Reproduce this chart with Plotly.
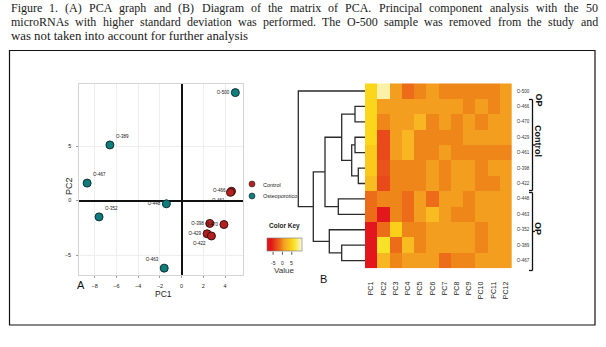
import plotly.graph_objects as go

W, H = 606, 347


def fx(p):
    return p / W


def fy(p):
    return 1 - p / H


# ---------------- data ----------------
caption_lines = [
    "Figure 1. (A) PCA graph and (B) Diagram of the matrix of PCA. Principal component analysis with the 50",
    "microRNAs with higher standard deviation was performed. The O-500 sample was removed from the study and",
    "was not taken into account for further analysis",
]

ctrl_names = ["O-466", "O-461", "O-398", "O-470", "O-429", "O-422"]
ctrl_pc1 = [4.6, 4.5, 2.6, 3.9, 2.35, 2.75]
ctrl_pc2 = [0.85, 0.75, -2.1, -2.2, -3.05, -3.25]

op_names = ["O-500", "O-389", "O-467", "O-448", "O-352", "O-463"]
op_pc1 = [4.95, -6.6, -8.7, -1.4, -7.6, -1.6]
op_pc2 = [9.9, 5.1, 1.6, -0.3, -1.5, -6.2]

pca_x_ticks = [-8, -6, -4, -2, 0, 2, 4]
pca_y_ticks = [-5, 0, 5]

heat_rows = ["O-500", "O-466", "O-470", "O-429", "O-461", "O-398",
             "O-422", "O-448", "O-463", "O-352", "O-389", "O-467"]
heat_cols = ["PC1", "PC2", "PC3", "PC4", "PC5", "PC6",
             "PC7", "PC8", "PC9", "PC10", "PC11", "PC12"]
heat_values = [
    [5.0, 9.0, 0.5, -1.5, -0.5, 0.5, -0.5, -0.5, -0.5, -0.5, -0.5, 0.5],
    [5.0, 0.5, 0.5, 0.5, 0.5, 0.5, 0.5, 0.5, -0.5, 0.5, -0.5, 0.5],
    [5.0, -0.5, 0.5, 0.5, 2.5, -0.5, 0.5, -0.5, 0.5, -0.5, 0.5, 0.5],
    [5.0, -3.5, 0.5, 2.5, -0.5, -0.5, -0.5, -0.5, 0.5, 0.5, 0.5, 0.5],
    [4.0, -3.5, 0.5, 2.5, -0.5, -0.5, 0.5, -0.5, -0.5, -0.5, -0.5, -0.5],
    [4.0, -3.0, -0.5, -0.5, -0.5, 0.5, -0.5, 0.5, 0.5, -0.5, 0.5, 0.5],
    [3.0, -3.5, -0.5, -0.5, -0.5, 0.5, -0.5, 0.5, 0.5, -0.5, -0.5, 0.5],
    [-1.5, -0.5, -0.5, -1.5, 0.5, -1.5, 0.5, 0.5, -0.5, 0.5, 0.5, 0.5],
    [-1.5, -6.0, -0.5, -1.5, 0.5, 3.0, 0.5, -0.5, -0.5, 0.5, 0.5, 0.5],
    [-7.0, -1.5, 4.5, -0.5, -0.5, 0.5, 0.5, 0.5, 0.5, -0.5, 0.5, 0.5],
    [-7.0, 6.0, -1.5, 3.0, -0.5, 0.5, 0.5, 0.5, 0.5, -0.5, 0.5, 0.5],
    [-7.0, 2.5, -0.5, 0.5, 0.5, 0.5, -1.5, -0.5, -0.5, 0.5, 0.5, 0.5],
]
key_ticks = [-5, 0, 5]

# dendrogram merges: (left child, right child, height); leaves are row indices 0..11,
# merged nodes get ids 12, 13, ...
dendro_merges = [
    (1, 2, 10.0),      # 12
    (3, 4, 10.0),      # 13
    (5, 6, 6.7),       # 14
    (13, 14, 13.3),    # 15
    (12, 15, 23.3),    # 16
    (7, 8, 26.7),      # 17
    (16, 17, 40.0),    # 18
    (10, 11, 23.3),    # 19
    (9, 19, 35.7),     # 20
    (18, 20, 51.7),    # 21
    (0, 21, 66.7),     # 22
]

# ---------------- helpers (text metrics for justified caption) ----------------
TIMES_W = {
    ' ': 250, '.': 250, ',': 250, '(': 333, ')': 333, '-': 333,
    'a': 444, 'b': 500, 'c': 444, 'd': 500, 'e': 444, 'f': 333, 'g': 500, 'h': 500,
    'i': 278, 'j': 278, 'k': 500, 'l': 278, 'm': 778, 'n': 500, 'o': 500, 'p': 500,
    'q': 500, 'r': 333, 's': 389, 't': 278, 'u': 500, 'v': 500, 'w': 722, 'x': 500,
    'y': 500, 'z': 444,
    'A': 722, 'B': 667, 'C': 667, 'D': 722, 'E': 611, 'F': 556, 'G': 722, 'H': 722,
    'I': 333, 'J': 389, 'K': 722, 'L': 611, 'M': 889, 'N': 722, 'O': 722, 'P': 556,
    'Q': 722, 'R': 667, 'S': 556, 'T': 611, 'U': 722, 'V': 722, 'W': 944, 'X': 722,
    'Y': 722, 'Z': 611,
}


def text_w(s, size):
    return sum(TIMES_W.get(ch, 500) for ch in s) * size / 1000.0


# ---------------- figure ----------------
fig = go.Figure()

RED = "#b3201f"
TEAL = "#107c7e"
fig.add_trace(go.Scatter(
    x=ctrl_pc1, y=ctrl_pc2, text=ctrl_names, mode="markers+text",
    textposition=["middle left", "bottom left", "middle left", "middle left",
                  "middle left", "bottom left"],
    textfont=dict(size=4.5, color="#111", family="Liberation Sans"),
    marker=dict(size=8, color=RED, line=dict(color="#3a1010", width=1)),
    xaxis="x", yaxis="y", showlegend=False, cliponaxis=False,
))
fig.add_trace(go.Scatter(
    x=op_pc1, y=op_pc2, text=op_names, mode="markers+text",
    textposition=["middle left", "top right", "top right", "middle left", "top right", "top left"],
    textfont=dict(size=4.5, color="#111", family="Liberation Sans"),
    marker=dict(size=8, color=TEAL, line=dict(color="#0d3030", width=1)),
    xaxis="x", yaxis="y", showlegend=False, cliponaxis=False,
))

# legend (manual, own small axes)
fig.add_trace(go.Scatter(
    x=[0, 0], y=[1, 0], mode="markers",
    marker=dict(size=6, color=[RED, TEAL], line=dict(color="#222", width=0.6)),
    xaxis="x4", yaxis="y4", showlegend=False, hoverinfo="skip",
))

# colour scale
anchors = [(-8.4, "#e0121c"), (-6.0, "#e3181c"), (-3.5, "#e84a1c"), (-1.5, "#ec6c1a"),
           (-0.5, "#ef861a"), (0.5, "#f49e20"), (2.5, "#f7b622"), (4.0, "#fbc81c"),
           (5.0, "#fcd61a"), (6.0, "#f6e226"), (10.3, "#fdf8e2")]
zmin, zmax = anchors[0][0], anchors[-1][0]
colorscale = [[(v - zmin) / (zmax - zmin), c] for v, c in anchors]

KEY_L, KEY_LEN, KEY_TOP, KEY_TH = 266.7, 35.0, 238.3, 13.0
fig.add_trace(go.Heatmap(
    z=heat_values, x=list(range(len(heat_cols))), y=list(range(len(heat_rows))),
    colorscale=colorscale, zmin=zmin, zmax=zmax, xaxis="x2", yaxis="y2",
    xgap=0, ygap=0,
    colorbar=dict(
        orientation="h", x=fx(KEY_L + KEY_LEN / 2), xanchor="center", y=fy(KEY_TOP), yanchor="top",
        len=KEY_LEN, lenmode="pixels", thickness=KEY_TH, thicknessmode="pixels",
        showticklabels=False, ticks="",
        outlinewidth=0.6, outlinecolor="#777", xpad=0, ypad=0,
    ),
))

# dendrogram
node_y = {i: float(i) for i in range(len(heat_rows))}
node_h = {i: 0.0 for i in range(len(heat_rows))}
dx, dy = [], []
for k, (a, b, h) in enumerate(dendro_merges):
    nid = len(heat_rows) + k
    dx += [node_h[a], h, h, node_h[b], None]
    dy += [node_y[a], node_y[a], node_y[b], node_y[b], None]
    node_y[nid] = (node_y[a] + node_y[b]) / 2
    node_h[nid] = h
fig.add_trace(go.Scatter(
    x=dx, y=dy, mode="lines", line=dict(color="#2a2a2a", width=1.3),
    xaxis="x3", yaxis="y3", showlegend=False, hoverinfo="skip",
))

# ---------------- layout ----------------
axis_font = dict(size=5.5, family="Liberation Sans", color="#222")
layout = dict(
    width=W, height=H, autosize=False,
    margin=dict(l=0, r=0, t=0, b=0),
    paper_bgcolor="white", plot_bgcolor="white",
    showlegend=False,
    xaxis=dict(
        domain=[fx(79.3), fx(242.5)], range=[-9.42, 5.61], tickvals=pca_x_ticks,
        showgrid=True, gridcolor="#eeeeee", gridwidth=0.6,
        zeroline=True, zerolinecolor="#111", zerolinewidth=2,
        showline=True, mirror=True, linecolor="#d4d4d4", linewidth=1,
        ticks="outside", ticklen=2, tickcolor="#999", tickfont=axis_font,
        ticklabelstandoff=3, anchor="y",
    ),
    yaxis=dict(
        domain=[fy(275), fy(84)], range=[-6.83, 10.69], tickvals=pca_y_ticks,
        showgrid=True, gridcolor="#eeeeee", gridwidth=0.6,
        zeroline=True, zerolinecolor="#111", zerolinewidth=2,
        showline=True, mirror=True, linecolor="#d4d4d4", linewidth=1,
        ticks="outside", ticklen=2, tickcolor="#999", tickfont=axis_font,
        ticklabelstandoff=4, anchor="x",
    ),
    xaxis2=dict(
        domain=[fx(365), fx(511.7)], range=[-0.5, 11.5], anchor="y2",
        tickvals=list(range(len(heat_cols))), ticktext=heat_cols, tickangle=-90,
        tickfont=dict(size=7, family="Liberation Sans", color="#222"),
        showgrid=False, zeroline=False, showline=False, ticks="", ticklabelstandoff=11,
    ),
    yaxis2=dict(
        domain=[fy(268.3), fy(83.3)], range=[11.5, -0.5], anchor="x2", side="right",
        tickvals=list(range(len(heat_rows))), ticktext=heat_rows,
        tickfont=dict(size=4.5, family="Liberation Sans", color="#333"),
        showgrid=False, zeroline=False, showline=False, ticks="", ticklabelstandoff=4,
    ),
    xaxis3=dict(
        domain=[fx(296), fx(365)], range=[69, 0], anchor="y3",
        visible=False, showgrid=False, zeroline=False,
    ),
    yaxis3=dict(
        domain=[fy(268.3), fy(83.3)], range=[11.5, -0.5], anchor="x3",
        visible=False, showgrid=False, zeroline=False,
    ),
    xaxis4=dict(domain=[fx(248), fx(256)], range=[-1, 1], anchor="y4",
                visible=False, showgrid=False, zeroline=False),
    yaxis4=dict(domain=[fy(202), fy(178)], range=[-0.5, 1.5], anchor="x4",
                visible=False, showgrid=False, zeroline=False),
)
fig.update_layout(**layout)

ann = []
CAP_SIZE = 12.0
CAP_LEFT, CAP_RIGHT = 8.5, 596.0
cap_y = [8.5, 22.0, 35.5]
for li, (line, yy) in enumerate(zip(caption_lines, cap_y)):
    cap_font = dict(size=CAP_SIZE, family="Liberation Serif", color="#1a1a1a")
    if li < len(caption_lines) - 1:
        words = line.split(" ")
        widths = [text_w(wd, CAP_SIZE) for wd in words]
        gap = (CAP_RIGHT - CAP_LEFT - sum(widths)) / (len(words) - 1)
        xpos = CAP_LEFT
        for wd, wdt in zip(words, widths):
            ann.append(dict(text=wd, x=fx(xpos), y=fy(yy), xref="paper", yref="paper",
                            xanchor="left", yanchor="middle", showarrow=False, font=cap_font))
            xpos += wdt + gap
    else:
        ann.append(dict(text=line, x=fx(CAP_LEFT), y=fy(yy), xref="paper", yref="paper",
                        xanchor="left", yanchor="middle", showarrow=False,
                        font=dict(size=12.8, family="Liberation Serif", color="#1a1a1a")))

# colour-key tick labels
key_span = zmax - zmin
for v in key_ticks:
    kx = KEY_L + (v - zmin) / key_span * KEY_LEN
    ann.append(dict(text=str(v), x=fx(kx), y=fy(267.5), xref="paper", yref="paper",
                    showarrow=False, font=dict(size=5, family="Liberation Sans", color="#222")))

ann += [
    dict(text="PC1", x=fx(153), y=fy(300.5), xref="paper", yref="paper", showarrow=False,
         font=dict(size=8.5, family="Liberation Sans", color="#222")),
    dict(text="PC2", x=fx(62), y=fy(186), xref="paper", yref="paper", showarrow=False,
         textangle=-90, font=dict(size=9, family="Liberation Sans", color="#222")),
    dict(text="A", x=fx(75), y=fy(293), xref="paper", yref="paper", showarrow=False,
         font=dict(size=11, family="Liberation Sans", color="#111")),
    dict(text="B", x=fx(323.5), y=fy(287), xref="paper", yref="paper", showarrow=False,
         font=dict(size=11, family="Liberation Sans", color="#111")),
    dict(text="Control", x=fx(260.5), y=fy(184.7), xref="paper", yref="paper", showarrow=False,
         xanchor="left", font=dict(size=5.5, family="Liberation Sans", color="#222")),
    dict(text="Osteoporotico", x=fx(260.5), y=fy(196), xref="paper", yref="paper", showarrow=False,
         xanchor="left", font=dict(size=5.5, family="Liberation Sans", color="#222")),
    dict(text="<b>Color Key</b>", x=fx(284), y=fy(231.5), xref="paper", yref="paper", showarrow=False,
         font=dict(size=6.5, family="Liberation Sans", color="#222")),
    dict(text="Value", x=fx(284), y=fy(277), xref="paper", yref="paper", showarrow=False,
         font=dict(size=8, family="Liberation Sans", color="#333")),
    dict(text="<b>OP</b>", x=fx(545), y=fy(91), xref="paper", yref="paper", showarrow=False,
         textangle=90, font=dict(size=9, family="Liberation Sans", color="#111")),
    dict(text="<b>Control</b>", x=fx(545), y=fy(141), xref="paper", yref="paper", showarrow=False,
         textangle=90, font=dict(size=9, family="Liberation Sans", color="#111")),
    dict(text="<b>OP</b>", x=fx(545), y=fy(228), xref="paper", yref="paper", showarrow=False,
         textangle=90, font=dict(size=9, family="Liberation Sans", color="#111")),
]
fig.update_layout(annotations=ann)

shapes = [
    dict(type="rect", xref="paper", yref="paper", x0=fx(9.5), x1=fx(595), y0=fy(325), y1=fy(50.5),
         line=dict(color="#111", width=1.2)),
]
for v in key_ticks:
    kx = fx(KEY_L + (v - zmin) / key_span * KEY_LEN)
    shapes.append(dict(type="line", xref="paper", yref="paper", x0=kx, x1=kx,
                       y0=fy(KEY_TOP + KEY_TH + 0.5), y1=fy(KEY_TOP + KEY_TH + 3.5),
                       line=dict(color="#333", width=0.8)))
for top, bot in [(99.5, 190.5), (192.5, 270.5)]:
    xb = fx(532.5)
    shapes += [
        dict(type="line", xref="paper", yref="paper", x0=xb, x1=xb, y0=fy(top), y1=fy(bot),
             line=dict(color="#111", width=1.3)),
        dict(type="line", xref="paper", yref="paper", x0=fx(529), x1=xb, y0=fy(top), y1=fy(top),
             line=dict(color="#111", width=1.3)),
        dict(type="line", xref="paper", yref="paper", x0=fx(529), x1=xb, y0=fy(bot), y1=fy(bot),
             line=dict(color="#111", width=1.3)),
        dict(type="line", xref="paper", yref="paper", x0=xb, x1=fx(535), y0=fy((top + bot) / 2),
             y1=fy((top + bot) / 2), line=dict(color="#111", width=1.3)),
    ]
fig.update_layout(shapes=shapes)

fig.write_html(
    "out.html",
    config={"displayModeBar": False},
    post_script="document.body.style.margin='0';document.body.style.overflow='hidden';",
)
